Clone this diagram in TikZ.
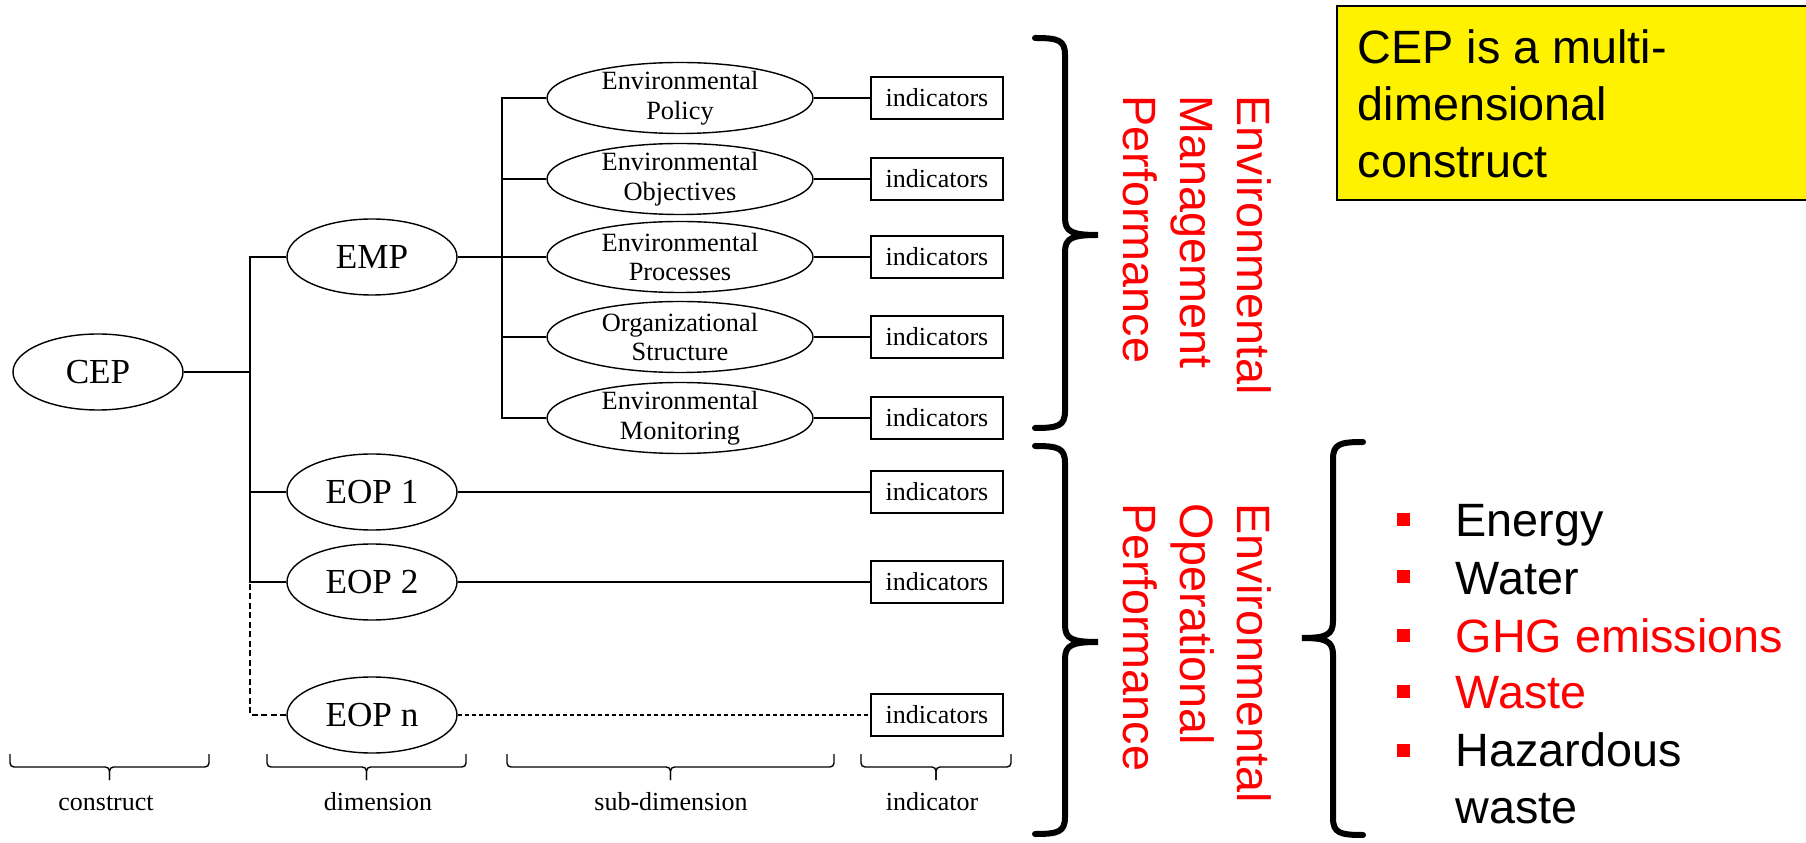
\documentclass[tikz,border=0pt]{standalone}
\usepackage{fontspec}
\setmainfont{Liberation Serif}
\newfontfamily\arialfont{Liberation Sans}
\usetikzlibrary{shapes.geometric}

\begin{document}
\begin{tikzpicture}[x=0.1mm,y=-0.1mm,
  dimnode/.style={ellipse,draw,minimum width=17mm,minimum height=7.6mm,inner sep=0pt,font=\fontsize{10}{12}\selectfont},
  subnode/.style={ellipse,draw,minimum width=26.6mm,minimum height=7.1mm,inner xsep=0pt,inner ysep=-0.8mm,align=center,font=\fontsize{7.5}{8.5}\selectfont},
  indbox/.style={rectangle,draw,line width=0.5pt,minimum width=13.2mm,minimum height=4.2mm,inner sep=0pt,font=\fontsize{7.4}{8.5}\selectfont},
  levelbrace/.style={rounded corners=0.4mm},
  levellabel/.style={anchor=base,inner sep=0pt,font=\fontsize{7.4}{8.5}\selectfont},
  bigbrace/.style={line width=0.6mm,line cap=round},
  redtitle/.style={text=red,rotate=-90,anchor=north west,align=left,inner sep=0pt,font=\arialfont\fontsize{13.3}{16.2}\selectfont},
  sqbullet/.style={rectangle,fill=red,minimum size=1.3mm,inner sep=0pt},
  listitem/.style={anchor=base west,inner sep=0pt,align=left,font=\arialfont\fontsize{13.3}{16.2}\selectfont}]
\useasboundingbox (0,0) rectangle (1806,843);

\node[dimnode] (cep) at (98,372) {CEP};
\node[dimnode] (emp) at (372,257) {EMP};
\node[dimnode] (eop1) at (372,492) {EOP 1};
\node[dimnode] (eop2) at (372,582) {EOP 2};
\node[dimnode] (eopn) at (372,715) {EOP n};

\node[subnode] (policy) at (680,98) {Environmental\\Policy};
\node[subnode] (objectives) at (680,179) {Environmental\\Objectives};
\node[subnode] (processes) at (680,257) {Environmental\\Processes};
\node[subnode] (structure) at (680,337) {Organizational\\Structure};
\node[subnode] (monitoring) at (680,418) {Environmental\\Monitoring};

\node[indbox] (ind1) at (937,98) {indicators};
\node[indbox] (ind2) at (937,179) {indicators};
\node[indbox] (ind3) at (937,257) {indicators};
\node[indbox] (ind4) at (937,337) {indicators};
\node[indbox] (ind5) at (937,418) {indicators};
\node[indbox] (ind6) at (937,492) {indicators};
\node[indbox] (ind7) at (937,582) {indicators};
\node[indbox] (ind8) at (937,715) {indicators};

\coordinate (cepj) at (250,372);
\coordinate (empj) at (502,257);

\draw (cep.east) -- (cepj);
\draw (emp.west) -| (cepj);
\draw (eop1.west) -| (cepj);
\draw (eop2.west) -| (cepj);
\draw[dash pattern=on 0.6mm off 0.35mm] (eopn.west) -| (eop2.west -| cepj);

\draw (emp.east) -- (processes.west);
\draw (policy.west) -| (empj);
\draw (objectives.west) -| (empj);
\draw (structure.west) -| (empj);
\draw (monitoring.west) -| (empj);

\draw (policy) -- (ind1);
\draw (objectives) -- (ind2);
\draw (processes) -- (ind3);
\draw (structure) -- (ind4);
\draw (monitoring) -- (ind5);
\draw (eop1) -- (ind6);
\draw (eop2) -- (ind7);
\draw[dash pattern=on 0.4mm off 0.3mm] (eopn) -- (ind8);

\draw[levelbrace] (10,754) -- (10,767) -- (109.5,767) -- (109.5,780);
\draw[levelbrace] (109.5,780) -- (109.5,767) -- (209,767) -- (209,754);
\draw[levelbrace] (267,754) -- (267,767) -- (366.5,767) -- (366.5,780);
\draw[levelbrace] (366.5,780) -- (366.5,767) -- (466,767) -- (466,754);
\draw[levelbrace] (507,754) -- (507,767) -- (670.5,767) -- (670.5,780);
\draw[levelbrace] (670.5,780) -- (670.5,767) -- (834,767) -- (834,754);
\draw[levelbrace] (861,754) -- (861,767) -- (936,767) -- (936,780);
\draw[levelbrace] (936,780) -- (936,767) -- (1011,767) -- (1011,754);

\node[levellabel] (construct) at (106,810) {construct};
\node[levellabel] (dimension) at (378,810) {dimension};
\node[levellabel] (subdimension) at (671,810) {sub-dimension};
\node[levellabel] (indicator) at (932,810) {indicator};

\draw[bigbrace] (1035,38) .. controls (1058,38) and (1065,40) .. (1065,55) -- (1065,218) .. controls (1065,232) and (1072,235) .. (1098,235) .. controls (1072,235) and (1065,238) .. (1065,252) -- (1065,411) .. controls (1065,426) and (1058,428) .. (1035,428);
\draw[bigbrace] (1035,446) .. controls (1058,446) and (1065,448) .. (1065,463) -- (1065,625) .. controls (1065,639) and (1072,642) .. (1098,642) .. controls (1072,642) and (1065,645) .. (1065,659) -- (1065,817) .. controls (1065,832) and (1058,834) .. (1035,834);
\draw[bigbrace] (1363,442) .. controls (1340,442) and (1333,444) .. (1333,459) -- (1333,621) .. controls (1333,635) and (1326,638) .. (1302,638) .. controls (1326,638) and (1333,641) .. (1333,655) -- (1333,818) .. controls (1333,833) and (1340,835) .. (1363,835);

\node[redtitle] (emptitle) at (1272,95) {Environmental\\Management\\Performance};
\node[redtitle] (eoptitle) at (1272,503) {Environmental\\Operational\\Performance};

\fill[yellow] (1337,6) rectangle (1806,200);
\draw[line width=0.6pt] (1806,6) -- (1337,6) -- (1337,200) -- (1806,200);
\node[anchor=north west,inner sep=0pt,align=left,font=\arialfont\fontsize{13.3}{16.2}\selectfont] (note) at (1357,29) {CEP is a multi-\\dimensional\\construct};

\node[sqbullet] (b1) at (1403.5,520) {};
\node[sqbullet] (b2) at (1403.5,577) {};
\node[sqbullet] (b3) at (1403.5,635) {};
\node[sqbullet] (b4) at (1403.5,691) {};
\node[sqbullet] (b5) at (1403.5,750) {};
\node[listitem] (energy) at (1455,537) {Energy};
\node[listitem] (water) at (1455,594) {Water};
\node[listitem,text=red] (ghg) at (1455,652) {GHG emissions};
\node[listitem,text=red] (waste) at (1455,708) {Waste};
\node[listitem] (hazardous) at (1455,823) {Hazardous\\waste};
\end{tikzpicture}
\end{document}
